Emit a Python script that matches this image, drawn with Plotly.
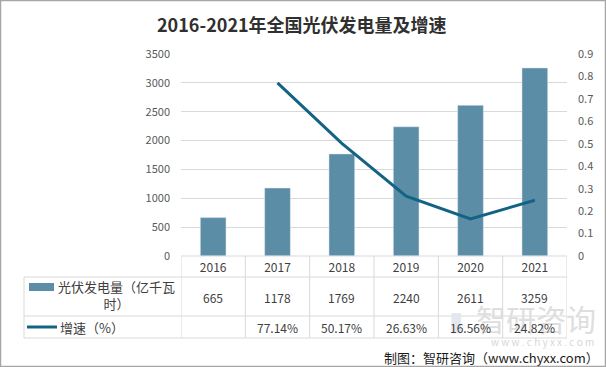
import plotly.graph_objects as go

# ---- data ----
years = ["2016", "2017", "2018", "2019", "2020", "2021"]
generation = [665, 1178, 1769, 2240, 2611, 3259]          # 亿千瓦时
growth_pct = [None, 77.14, 50.17, 26.63, 16.56, 24.82]    # %
left_ticks = [0, 500, 1000, 1500, 2000, 2500, 3000, 3500]
right_ticks = [0, 0.1, 0.2, 0.3, 0.4, 0.5, 0.6, 0.7, 0.8, 0.9]
series_names = ["光伏发电量（亿千瓦<br>时）", "增速（%）"]
title_text = "2016-2021年全国光伏发电量及增速"
source_text = "制图：智研咨询（www.chyxx.com）"

# ---- layout geometry (pixels) ----
WIDTH, HEIGHT = 606, 367
L, R, T, B = 181, 567, 54, 256
BAR_COLOR = "#5b8ea6"
LINE_COLOR = "#136384"
GRID = "#d9d9d9"
FONT = "Noto Sans CJK SC"
TXT = "#404040"


def px(x):
    return (x - L) / (R - L)


def py(y):
    return (B - y) / (B - T)


fig = go.Figure()
fig.add_trace(go.Bar(x=years, y=generation, marker_color=BAR_COLOR,
                     width=0.4, name=series_names[0], yaxis="y"))
fig.add_trace(go.Scatter(x=years, y=[None if g is None else g / 100 for g in growth_pct],
                         mode="lines", line=dict(color=LINE_COLOR, width=3),
                         name=series_names[1], yaxis="y2"))

shapes = []
# outer frame
shapes.append(dict(type="rect", xref="paper", yref="paper",
                   x0=px(0.5), x1=px(605.5), y0=py(366.5), y1=py(0.5),
                   line=dict(color="#a6a6a6", width=1.5), layer="below"))
# table lines
row_lines = [277, 316, 338]
for yy in row_lines:
    shapes.append(dict(type="line", xref="paper", yref="paper",
                       x0=px(24), x1=px(R), y0=py(yy), y1=py(yy),
                       line=dict(color=GRID, width=1)))
shapes.append(dict(type="line", xref="paper", yref="paper",
                   x0=px(L), x1=px(R), y0=py(B), y1=py(B),
                   line=dict(color=GRID, width=1)))
shapes.append(dict(type="line", xref="paper", yref="paper",
                   x0=px(24), x1=px(24), y0=py(277), y1=py(338),
                   line=dict(color=GRID, width=1)))
ncol = len(years)
for k in range(ncol + 1):
    shapes.append(dict(type="line", xref="x", yref="paper",
                       x0=k - 0.5, x1=k - 0.5, y0=py(B), y1=py(338),
                       line=dict(color=GRID, width=1)))
# legend keys
shapes.append(dict(type="rect", xref="paper", yref="paper",
                   x0=px(29), x1=px(54), y0=py(291), y1=py(283),
                   fillcolor=BAR_COLOR, line=dict(width=0)))
shapes.append(dict(type="line", xref="paper", yref="paper",
                   x0=px(27), x1=px(57), y0=py(327), y1=py(327),
                   line=dict(color=LINE_COLOR, width=3)))

annotations = []
# watermark
annotations.append(dict(text="智研咨询", xref="paper", yref="paper",
                        x=px(598), y=py(318), xanchor="right", yanchor="middle",
                        showarrow=False, font=dict(family=FONT, size=30, color="#dedede")))
annotations.append(dict(text="w w w . c h y x x . c o m", xref="paper", yref="paper",
                        x=px(596), y=py(341), xanchor="right", yanchor="middle",
                        showarrow=False, font=dict(family=FONT, size=10, color="#d8d8d8")))
annotations.append(dict(text="▮", xref="paper", yref="paper",
                        x=px(456), y=py(318), xanchor="center", yanchor="middle",
                        showarrow=False, font=dict(family=FONT, size=26, color="#e2e8ee")))
# title
annotations.append(dict(text="<b>" + title_text + "</b>", xref="paper", yref="paper",
                        x=px(302), y=py(24), xanchor="center", yanchor="middle",
                        showarrow=False, font=dict(family=FONT, size=18, color="#303030")))
# row labels
annotations.append(dict(text=series_names[0], xref="paper", yref="paper",
                        x=px(116), y=py(295), xanchor="center", yanchor="middle",
                        align="center", showarrow=False,
                        font=dict(family=FONT, size=13, color=TXT)))
annotations.append(dict(text=series_names[1], xref="paper", yref="paper",
                        x=px(58), y=py(327), xanchor="left", yanchor="middle",
                        showarrow=False, font=dict(family=FONT, size=13, color=TXT)))
# table values (positioned on the category axis by index)
for i, g in enumerate(generation):
    annotations.append(dict(text=str(g), xref="x", yref="paper", x=i, y=py(297),
                            xanchor="center", yanchor="middle", showarrow=False,
                            font=dict(family=FONT, size=12, color=TXT)))
for i, g in enumerate(growth_pct):
    if g is None:
        continue
    annotations.append(dict(text=f"{g:.2f}%", xref="x", yref="paper", x=i, y=py(327),
                            xanchor="center", yanchor="middle", showarrow=False,
                            font=dict(family=FONT, size=12, color=TXT)))
# source
annotations.append(dict(text=source_text, xref="paper", yref="paper",
                        x=px(601), y=py(357), xanchor="right", yanchor="middle",
                        showarrow=False, font=dict(family=FONT, size=13, color="#1a1a1a")))

fig.update_layout(
    width=WIDTH, height=HEIGHT,
    margin=dict(l=L, r=WIDTH - R, t=T, b=HEIGHT - B, pad=0),
    paper_bgcolor="white", plot_bgcolor="white",
    showlegend=False,
    font=dict(family=FONT, size=11, color="#595959"),
    xaxis=dict(type="category", range=[-0.5, len(years) - 0.5], showgrid=False,
               showline=False, zeroline=False, automargin=False,
               ticks="", tickfont=dict(size=12, color=TXT), ticklabelstandoff=3),
    yaxis=dict(range=[0, 3500], tickvals=left_ticks, showgrid=True, gridcolor=GRID,
               gridwidth=1, zeroline=False, showline=False, ticks="", automargin=False,
               ticklabelstandoff=10, tickfont=dict(size=11, color="#595959")),
    yaxis2=dict(range=[0, 0.9], tickvals=right_ticks, overlaying="y", side="right",
                showgrid=False, zeroline=False, showline=False, ticks="", automargin=False,
                ticklabelstandoff=10, tickfont=dict(size=11, color="#595959")),
    shapes=shapes,
    annotations=annotations,
)

fig.write_html("out.html",
               config={"displayModeBar": False},
               post_script="document.body.style.margin='0px';"
                           "document.body.style.overflow='hidden';")
